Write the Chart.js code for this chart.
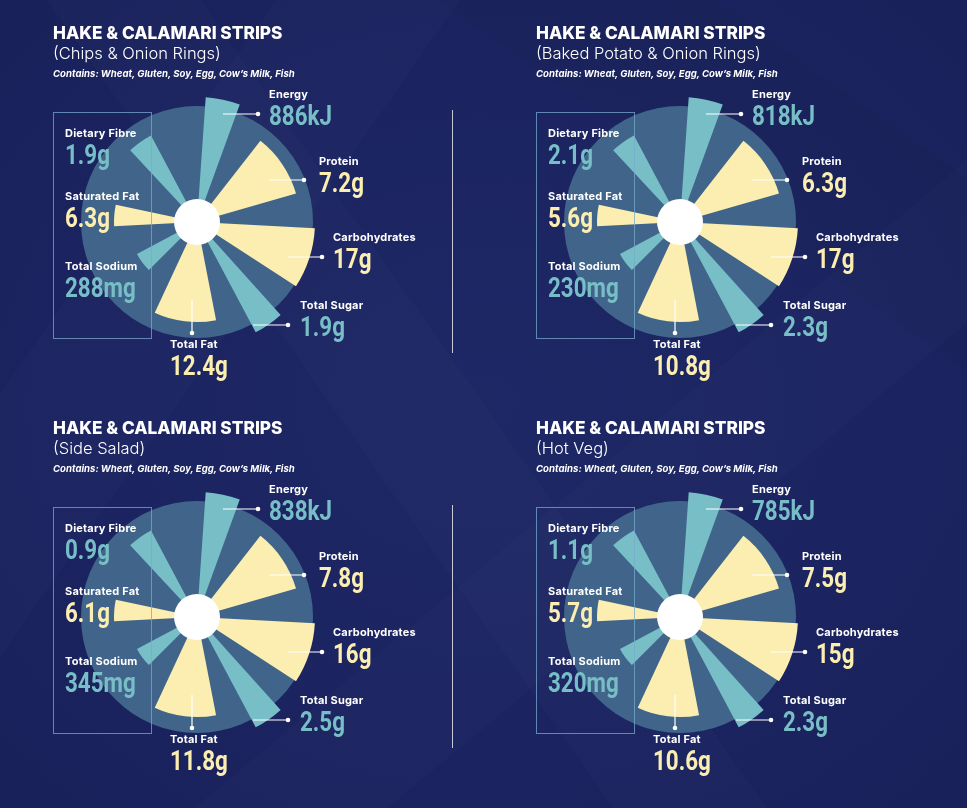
<!DOCTYPE html>
<html>
<head>
<meta charset="utf-8">
<script src="https://cdn.jsdelivr.net/npm/chart.js@4.4.1/dist/chart.umd.min.js"></script>
<style>
  html, body { margin:0; padding:0; }
  body {
    width:967px; height:808px; overflow:hidden; position:relative;
    background:
      linear-gradient(125deg, transparent 0 18%, rgba(255,255,255,0.012) 18% 30%, transparent 30% 100%),
      linear-gradient(55deg, transparent 0 40%, rgba(255,255,255,0.012) 40% 50%, transparent 50% 100%),
      linear-gradient(140deg, transparent 0 60%, rgba(255,255,255,0.012) 60% 70%, transparent 70% 100%),
      linear-gradient(35deg, transparent 0 75%, rgba(0,0,0,0.04) 75% 88%, transparent 88% 100%),
      radial-gradient(ellipse at 50% 50%, #1e2866 0%, #1b2460 60%, #19215a 100%);
    font-family: Inter, "Open Sans", sans-serif;
  }
  .panel { position:absolute; width:483px; height:395px; }
  .panel canvas { position:absolute; left:0; top:0; }
  .title { position:absolute; left:53px; top:23px; color:#fff; font-weight:800; font-size:17.3px; line-height:20px; white-space:nowrap; }
  .sub { position:absolute; left:53px; top:44px; color:#fff; font-weight:300; font-size:16.5px; line-height:18px; white-space:nowrap; }
  .contains { position:absolute; left:53px; top:68px; color:#fff; font-weight:700; font-style:italic; font-size:9.6px; line-height:11px; white-space:nowrap; }
  .box { position:absolute; left:53px; top:112px; width:97px; height:225px; border:1px solid rgba(120,170,205,0.75); }
  .item { position:absolute; white-space:nowrap; }
  .item .lab { position:absolute; left:0; top:-2px; color:#fff; font-weight:700; font-size:11px; line-height:12px; letter-spacing:0.2px; }
  .item .val { position:absolute; left:0; top:12px; font-family:Roboto, sans-serif; font-weight:700; font-size:28px; line-height:28px; transform:scaleX(0.8); transform-origin:0 0; }
  .divider { position:absolute; left:452px; width:1px; background:rgba(255,255,255,0.75); }
</style>
</head>
<body>
<div class="divider" style="top:110px;height:243px"></div>
<div class="divider" style="top:505px;height:243px"></div>
<script>
// nutrient wedges, clockwise from the top
const nutrients = ['Energy', 'Protein', 'Carbohydrates', 'Total Sugar', 'Total Fat', 'Total Sodium', 'Saturated Fat', 'Dietary Fibre'];
const wedgeStart = [4, 38, 93, 138, 169, 225, 267, 317];   // degrees
const wedgeEnd   = [20, 74, 123, 152, 205, 242, 282, 332];
const wedgeReach = [125, 103, 118, 125, 100, 68, 83, 98];  // radial scale units (0-150)
const discReach = 116;
const holeReach = 23;

// the four meals
const meals = ['(Chips & Onion Rings)', '(Baked Potato & Onion Rings)', '(Side Salad)', '(Hot Veg)'];
const energyKJ = [886, 818, 838, 785];
const proteinG = [7.2, 6.3, 7.8, 7.5];
const carbsG   = [17, 17, 16, 15];
const sugarG   = [1.9, 2.3, 2.5, 2.3];
const fatG     = [12.4, 10.8, 11.8, 10.6];
const sodiumMg = [288, 230, 345, 320];
const satFatG  = [6.3, 5.6, 6.1, 5.7];
const fibreG   = [1.9, 2.1, 0.9, 1.1];

const TEAL = '#78bec6', CREAM = '#fbeeb0', DISC = '#41658a';
const wedgeColor = [TEAL, CREAM, CREAM, TEAL, CREAM, TEAL, CREAM, TEAL];

// label placement (panel px): x, cap-top of the small label
const labelPos = {
  'Energy': [269, 90], 'Protein': [319, 157], 'Carbohydrates': [333, 233], 'Total Sugar': [300, 301],
  'Total Fat': [170, 340], 'Dietary Fibre': [65, 129], 'Saturated Fat': [65, 192], 'Total Sodium': [65, 262]
};
// leader lines, offsets from the chart centre: [x1, y1, x2, y2]
const leaders = [
  [26, -108, 61, -108], [72, -42, 107, -42], [91, 35, 125, 35], [56, 103, 91, 103], [-5, 78, -5, 111]
];

// segment arrays (gap, wedge, gap, wedge ...)
const segLabels = [], segData = [], segAngle = [], segColor = [];
let pos = 0;
nutrients.forEach((n, i) => {
  segLabels.push(''); segData.push(0); segAngle.push(wedgeStart[i] - pos); segColor.push('rgba(0,0,0,0)');
  segLabels.push(n); segData.push(wedgeReach[i]); segAngle.push(wedgeEnd[i] - wedgeStart[i]); segColor.push(wedgeColor[i]);
  pos = wedgeEnd[i];
});
segLabels.push(''); segData.push(0); segAngle.push(360 - pos); segColor.push('rgba(0,0,0,0)');

const leaderPlugin = {
  id: 'leaders',
  afterDatasetsDraw(chart) {
    const r = chart.scales.r, c = chart.ctx;
    c.save();
    c.strokeStyle = '#fff'; c.fillStyle = '#fff'; c.lineWidth = 1.2;
    leaders.forEach(l => {
      c.beginPath();
      c.moveTo(r.xCenter + l[0], r.yCenter + l[1]);
      c.lineTo(r.xCenter + l[2], r.yCenter + l[3]);
      c.stroke();
      c.beginPath();
      c.arc(r.xCenter + l[2], r.yCenter + l[3], 2.3, 0, Math.PI * 2);
      c.fill();
    });
    c.restore();
  }
};

function fmt(v, unit) { return v + unit; }

meals.forEach((meal, m) => {
  const panel = document.createElement('div');
  panel.className = 'panel';
  panel.style.left = (m % 2) * 483 + 'px';
  panel.style.top = Math.floor(m / 2) * 395 + 'px';
  document.body.appendChild(panel);

  const cv = document.createElement('canvas');
  cv.width = 483; cv.height = 395;
  panel.appendChild(cv);

  panel.insertAdjacentHTML('beforeend',
    '<div class="title">HAKE &amp; CALAMARI STRIPS</div>' +
    '<div class="sub">' + meal + '</div>' +
    '<div class="contains">Contains: Wheat, Gluten, Soy, Egg, Cow\u2019s Milk, Fish</div>' +
    '<div class="box"></div>');

  const values = {
    'Energy': fmt(energyKJ[m], 'kJ'), 'Protein': fmt(proteinG[m], 'g'), 'Carbohydrates': fmt(carbsG[m], 'g'),
    'Total Sugar': fmt(sugarG[m], 'g'), 'Total Fat': fmt(fatG[m], 'g'), 'Total Sodium': fmt(sodiumMg[m], 'mg'),
    'Saturated Fat': fmt(satFatG[m], 'g'), 'Dietary Fibre': fmt(fibreG[m], 'g')
  };
  nutrients.forEach((n, i) => {
    const p = labelPos[n];
    const el = document.createElement('div');
    el.className = 'item';
    el.style.left = p[0] + 'px';
    el.style.top = p[1] + 'px';
    el.innerHTML = '<div class="lab">' + n + '</div><div class="val" style="color:' + wedgeColor[i] + '">' + values[n] + '</div>';
    panel.appendChild(el);
  });

  new Chart(cv.getContext('2d'), {
    type: 'polarArea',
    data: {
      labels: segLabels,
      datasets: [
        { data: [holeReach], angle: [360], backgroundColor: ['#ffffff'], borderWidth: 0 },
        { data: segData, angle: segAngle, backgroundColor: segColor, borderWidth: 0 },
        { data: [discReach], angle: [360], backgroundColor: [DISC], borderWidth: 0 }
      ]
    },
    options: {
      responsive: false,
      animation: false,
      events: [],
      layout: { padding: { left: 47, top: 72, right: 136, bottom: 23 } },
      plugins: { legend: { display: false }, tooltip: { enabled: false } },
      scales: {
        r: {
          min: 0, max: 150, startAngle: 0,
          ticks: { display: false },
          grid: { display: false },
          angleLines: { display: false },
          pointLabels: { display: false }
        }
      }
    },
    plugins: [leaderPlugin]
  });
});
</script>
</body>
</html>
